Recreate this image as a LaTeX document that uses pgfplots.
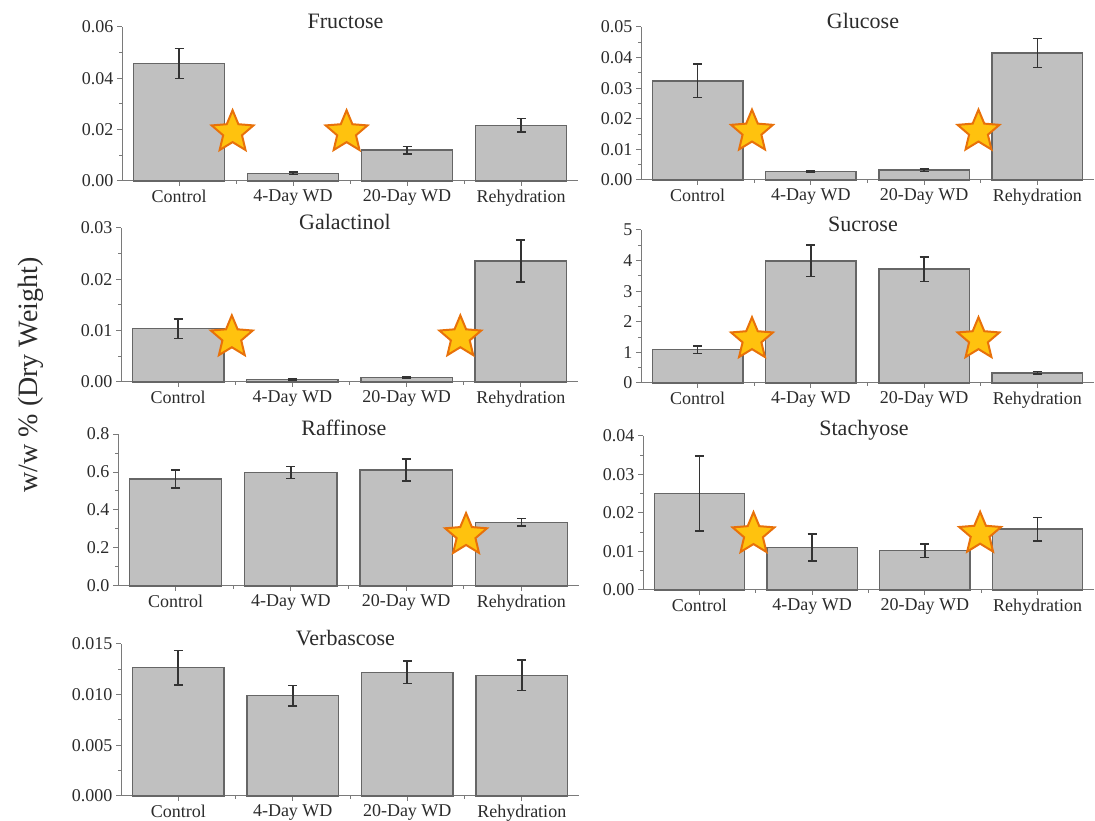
\documentclass[border=0pt]{standalone}
\usepackage{pgfplots}
\pgfplotsset{compat=1.18}
\usepackage{fontspec}
\setmainfont{Liberation Serif}
\definecolor{barfill}{HTML}{C0C0C0}
\definecolor{bardraw}{HTML}{666666}
\definecolor{axgray}{HTML}{7A7A7A}
\definecolor{txt}{HTML}{2B2B2B}
\definecolor{errc}{HTML}{333333}
\definecolor{starfill}{HTML}{FFC20E}
\definecolor{stardraw}{HTML}{E8710A}
\pgfdeclareplotmark{fstar}{%
  \pgfpathmoveto{\pgfpointpolar{90}{\pgfplotmarksize}}%
  \pgfpathlineto{\pgfpointpolar{126}{0.45\pgfplotmarksize}}%
  \pgfpathlineto{\pgfpointpolar{162}{\pgfplotmarksize}}%
  \pgfpathlineto{\pgfpointpolar{198}{0.45\pgfplotmarksize}}%
  \pgfpathlineto{\pgfpointpolar{234}{\pgfplotmarksize}}%
  \pgfpathlineto{\pgfpointpolar{270}{0.45\pgfplotmarksize}}%
  \pgfpathlineto{\pgfpointpolar{306}{\pgfplotmarksize}}%
  \pgfpathlineto{\pgfpointpolar{342}{0.45\pgfplotmarksize}}%
  \pgfpathlineto{\pgfpointpolar{18}{\pgfplotmarksize}}%
  \pgfpathlineto{\pgfpointpolar{54}{0.45\pgfplotmarksize}}%
  \pgfpathclose
  \pgfusepathqfillstroke
}
\pgfplotsset{
  panel/.style={
    scale only axis, anchor=south west,
    axis lines=left, axis line style={-, draw=axgray, line width=1pt},
    xmin=-0.5, xmax=3.5, ymin=0,
    xtick={0,1,2,3}, xticklabels={Control,4-Day WD,20-Day WD,Rehydration},
    minor xtick={0.5,1.5,2.5},
    tick align=outside,
    major tick length=5pt, minor tick length=3pt,
    every tick/.style={draw=axgray, line width=1pt},
    minor y tick num=1,
    scaled y ticks=false,
    ticklabel style={font=\fontsize{18}{20}\selectfont, text=txt},
    yticklabel style={/pgf/number format/.cd, fixed, fixed zerofill, precision=2, assume math mode=true},
    title style={font=\fontsize{22}{24}\selectfont, at={(0.49,1)}, anchor=center, text=txt},
    clip=false,
  },
  bars/.style={ybar, bar width=0.8, fill=barfill, draw=bardraw, line width=1.4pt,
    error bars/.cd, y dir=both, y explicit,
    error bar style={draw=errc, line width=1.6pt},
    error mark options={rotate=90, mark size=4.5pt, draw=errc, line width=1.6pt}},
  stars/.style={only marks, mark=fstar, mark size=22pt,
    mark options={fill=starfill, draw=stardraw, line width=2pt}},
}
\begin{document}
\begin{tikzpicture}
\useasboundingbox (0,0) rectangle (1095pt,821pt);
% Fructose
\begin{axis}[panel, at={(122pt,640pt)}, width=456pt, height=154pt, ymax=0.06, title={Fructose}]
\addplot[bars] coordinates {(0,0.0458) +- (0,0.0058) (1,0.0030) +- (0,0.0005) (2,0.0120) +- (0,0.0014) (3,0.0217) +- (0,0.0027)};
\addplot[stars] coordinates {(0.47,0.019) (1.47,0.019)};
\end{axis}
% Glucose
\begin{axis}[panel, at={(641pt,641pt)}, width=453pt, height=153pt, ymax=0.05, title={Glucose}]
\addplot[bars] coordinates {(0,0.0324) +- (0,0.0055) (1,0.0027) +- (0,0.0003) (2,0.0032) +- (0,0.0004) (3,0.0415) +- (0,0.0047)};
\addplot[stars] coordinates {(0.48,0.0158) (2.48,0.0158)};
\end{axis}
% Galactinol
\begin{axis}[panel, at={(121pt,439pt)}, width=457pt, height=154pt, ymax=0.03, title={Galactinol}]
\addplot[bars] coordinates {(0,0.0104) +- (0,0.0019) (1,0.0005) +- (0,0.0001) (2,0.0009) +- (0,0.0001) (3,0.0236) +- (0,0.0041)};
\addplot[stars] coordinates {(0.47,0.0087) (2.47,0.0087)};
\end{axis}
% Sucrose
\begin{axis}[panel, at={(641pt,438pt)}, width=453pt, height=153pt, ymax=5, ytick={0,1,2,3,4,5},
  yticklabel style={/pgf/number format/.cd, fixed, precision=0}, title={Sucrose}]
\addplot[bars] coordinates {(0,1.09) +- (0,0.12) (1,3.99) +- (0,0.51) (2,3.72) +- (0,0.40) (3,0.33) +- (0,0.04)};
\addplot[stars] coordinates {(0.48,1.43) (2.48,1.43)};
\end{axis}
% Raffinose
\begin{axis}[panel, at={(118pt,235pt)}, width=461pt, height=152pt, ymax=0.8, ytick={0,0.2,0.4,0.6,0.8},
  yticklabel style={/pgf/number format/.cd, fixed, fixed zerofill, precision=1}, title={Raffinose}]
\addplot[bars] coordinates {(0,0.563) +- (0,0.048) (1,0.598) +- (0,0.032) (2,0.611) +- (0,0.058) (3,0.335) +- (0,0.020)};
\addplot[stars] coordinates {(2.52,0.268)};
\end{axis}
% Stachyose
\begin{axis}[panel, at={(643pt,231pt)}, width=451pt, height=154pt, ymax=0.04, title={Stachyose}]
\addplot[bars] coordinates {(0,0.0251) +- (0,0.0097) (1,0.0111) +- (0,0.0035) (2,0.0102) +- (0,0.0018) (3,0.0158) +- (0,0.0030)};
\addplot[stars] coordinates {(0.48,0.0145) (2.49,0.0146)};
\end{axis}
% Verbascose
\begin{axis}[panel, at={(121pt,25pt)}, width=458pt, height=152pt, ymax=0.015, ytick={0,0.005,0.01,0.015},
  yticklabel style={/pgf/number format/.cd, fixed, fixed zerofill, precision=3}, title={Verbascose}]
\addplot[bars] coordinates {(0,0.01266) +- (0,0.0017) (1,0.0099) +- (0,0.0010) (2,0.0122) +- (0,0.0011) (3,0.0119) +- (0,0.0015)};
\end{axis}
\node[rotate=90, font=\fontsize{28}{30}\selectfont, text=txt] at (31pt,446pt) {w/w \% (Dry Weight)};
\end{tikzpicture}
\end{document}
